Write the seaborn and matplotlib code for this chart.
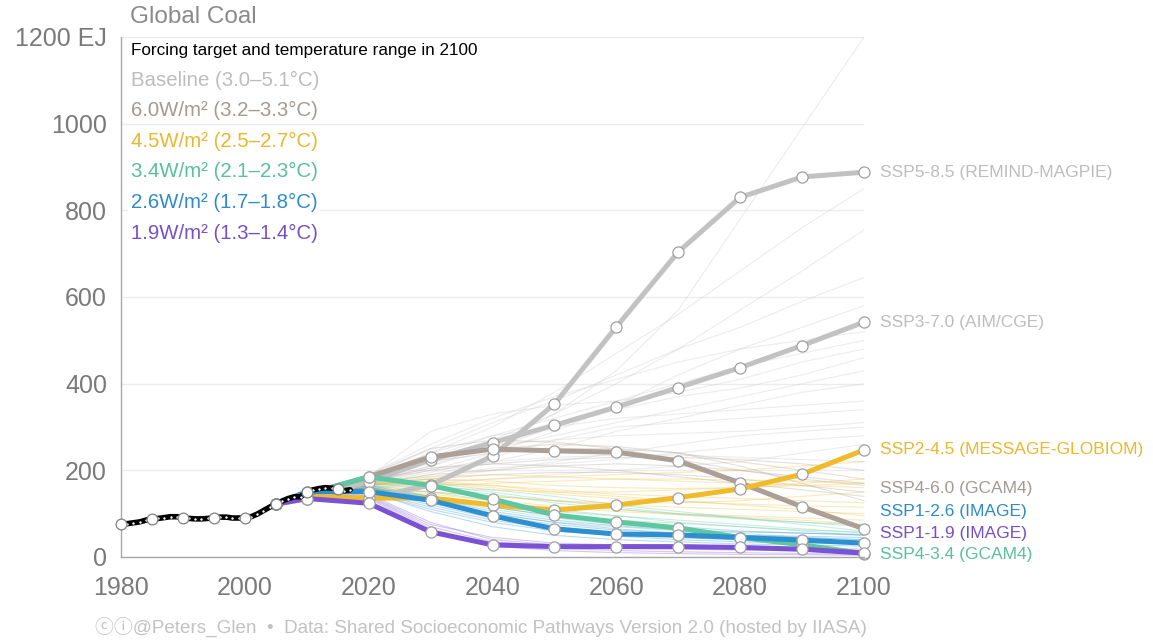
import pandas as pd
import matplotlib
matplotlib.use("Agg")
import matplotlib.pyplot as plt
import seaborn as sns

# historical global coal use (EJ)
hist_years = list(range(1980, 2018))
hist_coal = [76, 77, 79, 81, 85, 88, 89, 91, 93, 93, 91, 89, 88, 88, 89, 91, 92, 92, 90, 90,
             90, 93, 99, 107, 115, 122, 129, 135, 139, 139, 150, 155, 158, 160, 159, 157, 153, 155]

# marker scenarios
scen_years = [2005, 2010, 2020, 2030, 2040, 2050, 2060, 2070, 2080, 2090, 2100]
ssp585 = [122, 134, 136, 166, 233, 353, 531, 704, 830, 877, 888]
ssp370 = [122, 134, 174, 224, 264, 304, 346, 391, 437, 488, 542]
ssp460 = [122, 145, 185, 231, 249, 245, 242, 222, 171, 116, 65]
ssp245 = [122, 140, 136, 136, 120, 108, 120, 137, 157, 191, 247]
ssp434 = [122, 145, 185, 165, 134, 97, 81, 67, 45, 28, 8]
ssp126 = [122, 151, 151, 131, 95, 65, 53, 51, 45, 39, 32]
ssp119 = [122, 135, 124, 58, 28, 24, 24, 24, 22, 18, 9]

scen_names = ["SSP3-7.0 (AIM/CGE)", "SSP5-8.5 (REMIND-MAGPIE)", "SSP4-6.0 (GCAM4)",
              "SSP2-4.5 (MESSAGE-GLOBIOM)", "SSP4-3.4 (GCAM4)", "SSP1-2.6 (IMAGE)", "SSP1-1.9 (IMAGE)"]
scen_values = [ssp370, ssp585, ssp460, ssp245, ssp434, ssp126, ssp119]
scen_colors = ["#c2c2c2", "#c2c2c2", "#ab9f97", "#f0bb2b", "#5cc7a0", "#2b8fd1", "#7b52d3"]
# label heights on the right (spread apart so they don't overlap)
label_pos = [542, 888, 157, 247, 5, 106, 55]
label_colors = ["#bdbdbd", "#bdbdbd", "#a39a93", "#e8b82e", "#5abf9c", "#2f8bc9", "#7650c6"]

# other scenario runs (thin lines), 2010..2100
bg_years = [2010, 2020, 2030, 2040, 2050, 2060, 2070, 2080, 2090, 2100]
bg_baseline = [
    [145, 170, 210, 260, 330, 430, 570, 780, 990, 1200],
    [145, 180, 240, 300, 380, 470, 560, 660, 760, 850],
    [145, 175, 220, 270, 330, 400, 480, 570, 660, 755],
    [145, 185, 250, 310, 360, 420, 480, 530, 590, 645],
    [145, 170, 200, 240, 290, 350, 420, 480, 530, 580],
    [145, 190, 260, 320, 370, 410, 450, 480, 500, 520],
    [145, 175, 230, 280, 320, 360, 400, 440, 470, 500],
    [145, 180, 220, 250, 280, 310, 340, 370, 400, 430],
    [145, 165, 190, 220, 250, 290, 320, 350, 380, 400],
    [145, 185, 240, 280, 300, 320, 330, 340, 350, 360],
    [145, 170, 180, 200, 220, 240, 260, 280, 290, 300],
    [145, 160, 170, 180, 190, 200, 210, 220, 240, 260],
    [145, 185, 290, 330, 350, 360, 380, 410, 450, 480],
    [145, 175, 210, 250, 300, 340, 370, 390, 420, 460],
    [145, 170, 195, 230, 270, 300, 310, 320, 330, 340],
    [145, 180, 230, 260, 270, 280, 285, 290, 300, 310],
    [145, 165, 185, 205, 215, 225, 240, 255, 270, 280],
    [145, 175, 205, 220, 230, 235, 235, 230, 225, 220],
]
bg_60 = [
    [145, 180, 220, 240, 250, 250, 240, 220, 200, 180],
    [145, 175, 200, 215, 225, 230, 230, 225, 215, 200],
    [145, 170, 190, 200, 210, 215, 210, 200, 185, 170],
    [145, 185, 230, 250, 260, 255, 240, 210, 170, 130],
    [145, 165, 180, 190, 195, 195, 190, 180, 165, 150],
    [145, 190, 250, 270, 265, 250, 225, 200, 180, 165],
    [145, 175, 205, 215, 210, 200, 185, 170, 155, 140],
]
bg_45 = [
    [145, 165, 175, 180, 185, 190, 195, 200, 210, 220],
    [145, 160, 160, 155, 150, 150, 155, 160, 170, 180],
    [145, 170, 180, 175, 165, 160, 158, 160, 165, 170],
    [145, 155, 150, 140, 130, 125, 125, 130, 140, 150],
    [145, 165, 170, 165, 155, 145, 140, 135, 130, 125],
    [145, 160, 150, 140, 130, 120, 115, 110, 105, 100],
    [145, 170, 175, 165, 150, 140, 130, 120, 110, 95],
    [145, 158, 145, 130, 118, 110, 100, 95, 90, 85],
    [145, 175, 185, 190, 185, 180, 175, 170, 165, 160],
    [145, 168, 172, 160, 145, 135, 128, 122, 118, 115],
    [145, 162, 165, 170, 175, 180, 180, 178, 175, 170],
    [145, 155, 140, 125, 115, 105, 98, 92, 85, 75],
]
bg_34 = [
    [145, 170, 165, 150, 130, 115, 100, 90, 80, 70],
    [145, 165, 150, 130, 110, 95, 80, 70, 60, 50],
    [145, 160, 140, 120, 105, 95, 85, 75, 65, 55],
    [145, 175, 170, 155, 140, 120, 105, 90, 75, 60],
    [145, 160, 135, 110, 90, 75, 65, 55, 45, 40],
    [145, 155, 125, 100, 80, 70, 60, 50, 42, 35],
    [145, 168, 160, 145, 125, 110, 98, 88, 80, 75],
    [145, 158, 140, 115, 95, 85, 78, 70, 62, 58],
]
bg_26 = [
    [145, 160, 130, 100, 80, 65, 55, 50, 45, 40],
    [145, 155, 120, 90, 70, 55, 45, 40, 35, 30],
    [145, 165, 140, 115, 95, 80, 70, 60, 55, 50],
    [145, 150, 110, 80, 60, 50, 45, 40, 38, 35],
    [145, 158, 125, 95, 75, 62, 55, 50, 48, 45],
    [145, 150, 105, 70, 50, 40, 35, 30, 28, 25],
    [145, 162, 135, 105, 85, 72, 62, 58, 55, 52],
    [145, 152, 115, 85, 65, 48, 40, 35, 32, 30],
]
bg_19 = [
    [145, 140, 70, 35, 25, 20, 18, 16, 14, 12],
    [145, 135, 60, 30, 20, 15, 12, 10, 8, 6],
    [145, 145, 80, 40, 28, 22, 20, 18, 16, 15],
    [145, 138, 65, 25, 15, 10, 8, 6, 5, 4],
    [145, 142, 75, 45, 32, 28, 25, 22, 20, 18],
]

legend_lines = ["Baseline (3.0–5.1°C)", "6.0W/m² (3.2–3.3°C)", "4.5W/m² (2.5–2.7°C)",
                "3.4W/m² (2.1–2.3°C)", "2.6W/m² (1.7–1.8°C)", "1.9W/m² (1.3–1.4°C)"]
legend_colors = ["#bdbdbd", "#a39a93", "#e8b82e", "#5abf9c", "#2f8bc9", "#7650c6"]
bg_colors = {"Baseline": "#c4c4c4", "6.0": "#ab9f97", "4.5": "#f0bb2b",
             "3.4": "#5cc7a0", "2.6": "#2b8fd1", "1.9": "#7b52d3"}

# long tables for seaborn
rows = []
for cat, runs in [("Baseline", bg_baseline), ("6.0", bg_60), ("4.5", bg_45),
                  ("3.4", bg_34), ("2.6", bg_26), ("1.9", bg_19)]:
    for i, run in enumerate(runs):
        for yr, v in zip(bg_years, run):
            rows.append((cat, f"{cat}-{i}", yr, v))
bg = pd.DataFrame(rows, columns=["category", "run", "year", "value"])

rows = []
for name, vals in zip(scen_names, scen_values):
    for yr, v in zip(scen_years, vals):
        rows.append((name, yr, v))
scen = pd.DataFrame(rows, columns=["scenario", "year", "value"])

hist = pd.DataFrame({"year": hist_years, "value": hist_coal})

sns.set_theme(style="white")
plt.rcParams["font.family"] = ["Liberation Sans", "DejaVu Sans"]

fig = plt.figure(figsize=(11.53, 6.41), dpi=100)
ax = fig.add_axes([121 / 1153, 84 / 641, (864 - 121) / 1153, (557 - 37) / 641])

ax.yaxis.grid(True, color="#ececec", lw=1)
ax.set_axisbelow(True)

sns.lineplot(data=bg, x="year", y="value", hue="category", units="run", estimator=None,
             palette=bg_colors, lw=0.8, alpha=0.32, legend=False, ax=ax)

sns.lineplot(data=scen, x="year", y="value", hue="scenario", hue_order=scen_names,
             palette=dict(zip(scen_names, scen_colors)), lw=3.6, marker="o", markersize=8,
             markerfacecolor="white", markeredgecolor="#a0a0a0", markeredgewidth=0.9,
             legend=False, ax=ax)

sns.lineplot(data=hist, x="year", y="value", color="black", lw=4, ax=ax)
sns.scatterplot(data=hist, x="year", y="value", color="white", s=3, linewidth=0, ax=ax, zorder=5)
sns.scatterplot(data=hist[hist["year"] % 5 == 0], x="year", y="value", color="white",
                edgecolor="#808080", linewidth=0.9, s=60, ax=ax, zorder=6)

for ln in ax.lines:
    ln.set_clip_on(False)
for c in ax.collections:
    c.set_clip_on(False)

ax.set_xlim(1980, 2100)
ax.set_ylim(0, 1200)
ax.set_xticks(range(1980, 2101, 20))
ax.set_yticks(range(0, 1201, 200))
ax.set_yticklabels(["0", "200", "400", "600", "800", "1000", "1200 EJ"])
ax.set_xlabel("")
ax.set_ylabel("")
for s in ["top", "right"]:
    ax.spines[s].set_visible(False)
for s in ["left", "bottom"]:
    ax.spines[s].set_color("#a8a8a8")
    ax.spines[s].set_linewidth(1)
ax.tick_params(axis="both", which="both", length=6, width=1, color="#a8a8a8",
               labelcolor="#7a7a7a", labelsize=18, pad=4)
ax.tick_params(axis="x", pad=8)

# scenario labels on the right
for name, ypos, col in zip(scen_names, label_pos, label_colors):
    ax.text(2102.6, ypos, name, color=col, fontsize=12.5, va="center", ha="left", clip_on=False)

# title and legend text
fig.text(130 / 1153, 1 - 17 / 641, "Global Coal", color="#8a8a8a", fontsize=17.5, va="center")
fig.text(131 / 1153, 1 - 50 / 641, "Forcing target and temperature range in 2100",
         color="black", fontsize=12.3, va="center",
         bbox=dict(facecolor="white", edgecolor="none", pad=2))
for i, (txt, col) in enumerate(zip(legend_lines, legend_colors)):
    fig.text(131 / 1153, 1 - (80 + i * 30.6) / 641, txt, color=col, fontsize=14.7, va="center",
             bbox=dict(facecolor="white", edgecolor="none", pad=2))

fig.text(95 / 1153, 1 - 627 / 641,
         "ⓒⓘ@Peters_Glen  •  Data: Shared Socioeconomic Pathways Version 2.0 (hosted by IIASA)",
         color="#c2c2c2", fontsize=13.6, va="center",
         family=["Liberation Sans", "Noto Sans CJK JP", "DejaVu Sans"])

fig.savefig("out.png", dpi=100, facecolor="white")
